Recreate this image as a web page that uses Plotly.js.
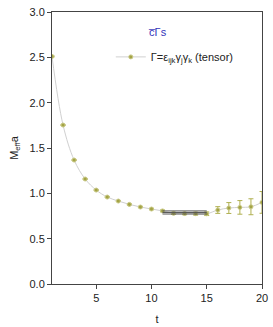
<!DOCTYPE html>
<html><head><meta charset="utf-8">
<script src="https://cdn.plot.ly/plotly-3.0.1.min.js"></script>
<style>html,body{margin:0;padding:0;background:#fff}</style>
</head><body>
<div id="chart" style="width:273px;height:327px"></div>
<script>
var tValues = [1,2,3,4,5,6,7,8,9,10,11,12,13,14,15,16,17,18,19,20];
var meffValues = [2.51,1.753,1.367,1.158,1.036,0.959,0.915,0.878,0.849,0.827,0.806,0.779,0.777,0.776,0.775,0.816,0.838,0.845,0.852,0.90];
var meffErrors = [0.005,0.005,0.005,0.005,0.005,0.005,0.005,0.006,0.007,0.008,0.010,0.012,0.013,0.016,0.020,0.037,0.060,0.075,0.088,0.12];
var fitT = [11,15];
var fitCenter = [0.789,0.789];
var fitUpper = [0.806,0.806];
var fitLower = [0.772,0.772];
var legendLabel = "Γ=ε<sub>ijk</sub>γ<sub>j</sub>γ<sub>k</sub> (tensor)";
var chartTitle = "c\u0305Γs";

var traces = [
  {x: tValues, y: meffValues, type: 'scatter', mode: 'lines+markers', name: legendLabel,
   line: {color: '#d0d0d0', width: 1, shape: 'spline'},
   marker: {color: '#a3a345', size: 4, line: {color: '#c8c884', width: 1}},
   error_y: {type: 'data', array: meffErrors, visible: true, color: '#b0b050', thickness: 1, width: 2.5}},
  {x: fitT, y: fitUpper, type: 'scatter', mode: 'lines', showlegend: false, line: {color: '#555', width: 1}},
  {x: fitT, y: fitCenter, type: 'scatter', mode: 'lines', showlegend: false, line: {color: '#555', width: 1}},
  {x: fitT, y: fitLower, type: 'scatter', mode: 'lines', showlegend: false, line: {color: '#555', width: 1}}
];
var layout = {
  width: 273, height: 327,
  margin: {l: 52, r: 11, t: 12, b: 43},
  paper_bgcolor: '#fff', plot_bgcolor: '#fff',
  font: {family: 'Liberation Sans, Arial, sans-serif', size: 11, color: '#222'},
  showlegend: true,
  legend: {x: 0.28, y: 0.835, xanchor: 'left', yanchor: 'middle', bgcolor: 'rgba(0,0,0,0)', font: {size: 11}, itemwidth: 30},
  annotations: [{text: chartTitle, xref: 'paper', yref: 'paper', x: 0.5, y: 0.925, showarrow: false,
                 font: {color: '#3333bb', size: 11}, xanchor: 'center', yanchor: 'middle'}],
  xaxis: {range: [1, 20], tickvals: [5,10,15,20], ticks: 'outside', ticklen: 4, tickcolor: '#444',
          showline: true, linecolor: '#444', linewidth: 1, mirror: true, showgrid: false, zeroline: false,
          title: {text: 't', standoff: 12, font: {size: 11}}},
  yaxis: {range: [0, 3], dtick: 0.5, tickformat: '.1f', ticks: 'outside', ticklen: 4, tickcolor: '#444',
          showline: true, linecolor: '#444', linewidth: 1, mirror: true, showgrid: false, zeroline: false,
          title: {text: 'M<sub>eff</sub>a', standoff: 8, font: {size: 11}}}
};
Plotly.newPlot('chart', traces, layout, {staticPlot: true, displayModeBar: false});
</script>
</body></html>
